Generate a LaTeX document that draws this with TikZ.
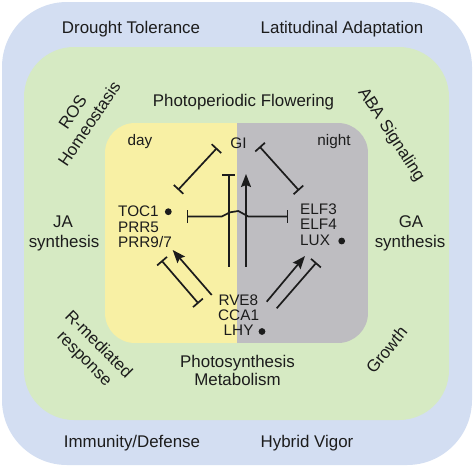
\documentclass[tikz,border=0pt]{standalone}
\usepackage{fontspec}
\setmainfont{Liberation Sans}
\usetikzlibrary{arrows.meta}
\definecolor{outerblue}{HTML}{D3DEF2}
\definecolor{leafgreen}{HTML}{D6EAC3}
\definecolor{dayyellow}{HTML}{F8F0A4}
\definecolor{nightgray}{HTML}{BEBDC1}
\definecolor{inktext}{HTML}{1C1C1C}
\begin{document}
\begin{tikzpicture}[x=1pt,y=-1pt,
  lbl/.style={inner sep=0pt, font=\fontsize{16.9}{20}\selectfont, text=inktext},
  gene/.style={inner sep=0pt, font=\fontsize{15.3}{17}\selectfont, text=inktext},
  conn/.style={line width=1.7pt, draw=inktext},
  inhboth/.style={conn, {Bar[width=13pt]}-{Bar[width=13pt]}},
  inhend/.style={conn, -{Bar[width=13pt]}},
  actarrow/.style={conn, -{Stealth[length=13pt,width=10pt,inset=2pt]}},
  clockdot/.style={fill=inktext, circle, inner sep=0pt, minimum size=6.8pt}
]
\useasboundingbox (0,0) rectangle (474,467);
% backgrounds
\fill[outerblue, rounded corners=65pt] (2,2) rectangle (472,465);
\fill[leafgreen, rounded corners=50pt] (24,47) rectangle (449,420);
\begin{scope}
  \clip[rounded corners=30pt] (105,123) rectangle (368,343);
  \fill[dayyellow] (105,123) rectangle (237,343);
  \fill[nightgray] (237,123) rectangle (368,343);
\end{scope}

% outer labels
\node[lbl, anchor=base] (drought) at (131,33) {Drought Tolerance};
\node[lbl, anchor=base] (latitude) at (342,33) {Latitudinal Adaptation};
\node[lbl, anchor=base] (immunity) at (132,447) {Immunity/Defense};
\node[lbl, anchor=base] (hybrid) at (307,447) {Hybrid Vigor};

% green ring labels
\node[lbl, anchor=base] (flowering) at (243.5,106) {Photoperiodic Flowering};
\node[lbl, anchor=base] (photosyn) at (237.5,367) {Photosynthesis};
\node[lbl, anchor=base] (metab) at (237.5,385) {Metabolism};
\node[lbl, anchor=base] (ja) at (63,227) {JA};
\node[lbl, anchor=base] (jasyn) at (64,247) {synthesis};
\node[lbl, anchor=base] (ga) at (411,227) {GA};
\node[lbl, anchor=base] (gasyn) at (410,247) {synthesis};
\node[lbl, rotate=56, align=center] (ros) at (81,118) {ROS\\Homeostasis};
\node[lbl, rotate=-45, align=center] (rmed) at (91,352) {R-mediated\\response};
\node[lbl, rotate=-57] (aba) at (391,135) {ABA Signaling};
\node[lbl, rotate=51] (growth) at (386.5,350) {Growth};

% inner labels
\node[gene, anchor=base] (day) at (140,145) {day};
\node[gene, anchor=base] (night) at (334,145) {night};
\node[gene, anchor=base] (gi) at (238.5,148) {GI};
\node[gene, anchor=base west] (toc1) at (118,216) {TOC1};
\node[gene, anchor=base west] (prr5) at (118,232) {PRR5};
\node[gene, anchor=base west] (prr97) at (118,247) {PRR9/7};
\node[gene, anchor=base west] (elf3) at (300,214) {ELF3};
\node[gene, anchor=base west] (elf4) at (300,229) {ELF4};
\node[gene, anchor=base west] (lux) at (300,245) {LUX};
\node[gene, anchor=base west] (rve8) at (218.3,305) {RVE8};
\node[gene, anchor=base west] (cca1) at (218,320) {CCA1};
\node[gene, anchor=base west] (lhy) at (223.5,335) {LHY};
\node[clockdot] (toc1dot) at (168.3,211.7) {};
\node[clockdot] (luxdot) at (341.7,241) {};
\node[clockdot] (lhydot) at (262,331.5) {};

% connector end points
\coordinate (giL) at (217,148);
\coordinate (tocT) at (178,190);
\coordinate (giR) at (259.5,146.5);
\coordinate (elfT) at (299,190.5);
\coordinate (hL) at (186.5,216.5);
\coordinate (hR) at (288.3,216.5);
\coordinate (vTbot) at (228.8,266.7);
\coordinate (vTtop) at (228.8,174);
\coordinate (vAbot) at (246,266.7);
\coordinate (vAtop) at (246,174);
\coordinate (lAtail) at (211.7,295);
\coordinate (lAtip) at (172.7,250);
\coordinate (lTtop) at (161.5,260.5);
\coordinate (lTbot) at (198.5,303.5);
\coordinate (rAtail) at (266.7,301.7);
\coordinate (rAtip) at (305,256);
\coordinate (rTtail) at (276.7,308.3);
\coordinate (rTtop) at (316.5,262.5);

% connectors
\draw[inhboth] (giL) -- (tocT);
\draw[inhboth] (giR) -- (elfT);
\draw[inhboth] (hL) -- (221.7,216.5) -- (230,212.3) -- (238.3,211) -- (248.3,216.5) -- (hR);
\draw[inhend] (vTbot) -- (vTtop);
\draw[actarrow] (vAbot) -- (vAtop);
\draw[actarrow] (lAtail) -- (lAtip);
\draw[inhboth] (lTtop) -- (lTbot);
\draw[actarrow] (rAtail) -- (rAtip);
\draw[inhend] (rTtail) -- (rTtop);
\end{tikzpicture}
\end{document}
